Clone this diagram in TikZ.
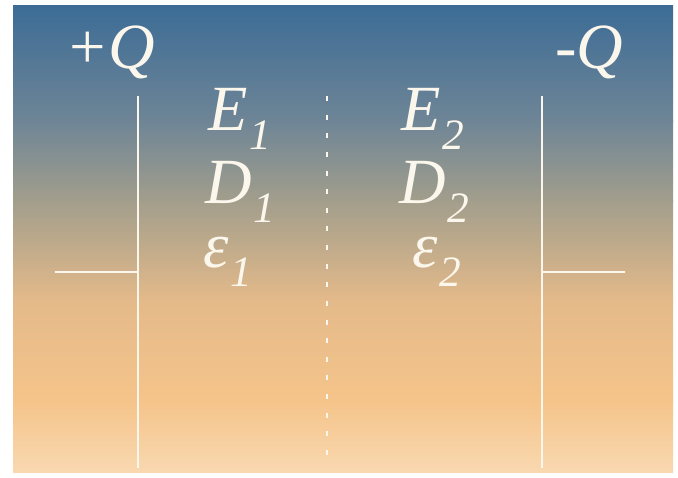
\documentclass[tikz,border=0pt]{standalone}
\usepackage{fontspec}
\setmainfont{Liberation Serif}
\usepackage{graphicx}
\usetikzlibrary{positioning}

\definecolor{bgA}{RGB}{60,108,150}
\definecolor{bgB}{RGB}{110,133,150}
\definecolor{bgC}{RGB}{162,158,140}
\definecolor{bgD}{RGB}{228,186,138}
\definecolor{bgE}{RGB}{245,196,138}
\definecolor{bgF}{RGB}{249,216,176}
\definecolor{labwhite}{RGB}{252,247,236}

\newcommand{\sublab}[2]{#1\kern1.5pt\raisebox{-17pt}{\fontsize{37}{37}\selectfont #2}}

\begin{document}
\begin{tikzpicture}[x=0.03cm, y=-0.03cm,
    lab/.style={text=labwhite, font=\fontsize{55}{55}\selectfont\itshape, inner sep=0pt, anchor=base west},
    plate/.style={draw=labwhite, line width=2.2pt},
    divider/.style={draw=labwhite, line width=1.8pt, dash pattern=on 4.3pt off 11.6pt},
  ]

  \useasboundingbox (0,0) rectangle (678,477);
  \fill[white] (0,0) rectangle (678,477);

  % background
  \shade[top color=bgA, bottom color=bgB] (13,5)   rectangle (673,121);
  \shade[top color=bgB, bottom color=bgC] (13,120) rectangle (673,201);
  \shade[top color=bgC, bottom color=bgD] (13,200) rectangle (673,301);
  \shade[top color=bgD, bottom color=bgE] (13,300) rectangle (673,401);
  \shade[top color=bgE, bottom color=bgF] (13,400) rectangle (673,472);

  % charges
  \node[lab] (pq) at (65,68)  {+Q};
  \node[lab] (mq) at (555,68) {-Q};

  % field quantities
  \node[lab] (eone) at (208,130) {\sublab{E}{1}};
  \node[lab] (done) at (205,203) {\sublab{D}{1}};
  \node[lab] (kone) at (203,267) {\sublab{ε}{1}};
  \node[lab] (etwo) at (401,130) {\sublab{E}{2}};
  \node[lab] (dtwo) at (399,203) {\sublab{D}{2}};
  \node[lab] (ktwo) at (412,267) {\sublab{ε}{2}};

  % plates
  \coordinate (ltop) at (138,96);
  \coordinate (lbot) at (138,468);
  \coordinate (lend) at (55,272);
  \coordinate (rtop) at (542,96);
  \coordinate (rbot) at (542,468);
  \coordinate (rend) at (625,272);
  \draw[plate] (ltop) -- (lbot);
  \draw[plate] (lend) -- (lend -| ltop);
  \draw[plate] (rtop) -- (rbot);
  \draw[plate] (rend) -- (rend -| rtop);

  % boundary between the dielectrics
  \coordinate (mtop) at (327,96);
  \coordinate (mbot) at (327,464);
  \draw[divider] (mtop) -- (mbot);

\end{tikzpicture}
\end{document}
